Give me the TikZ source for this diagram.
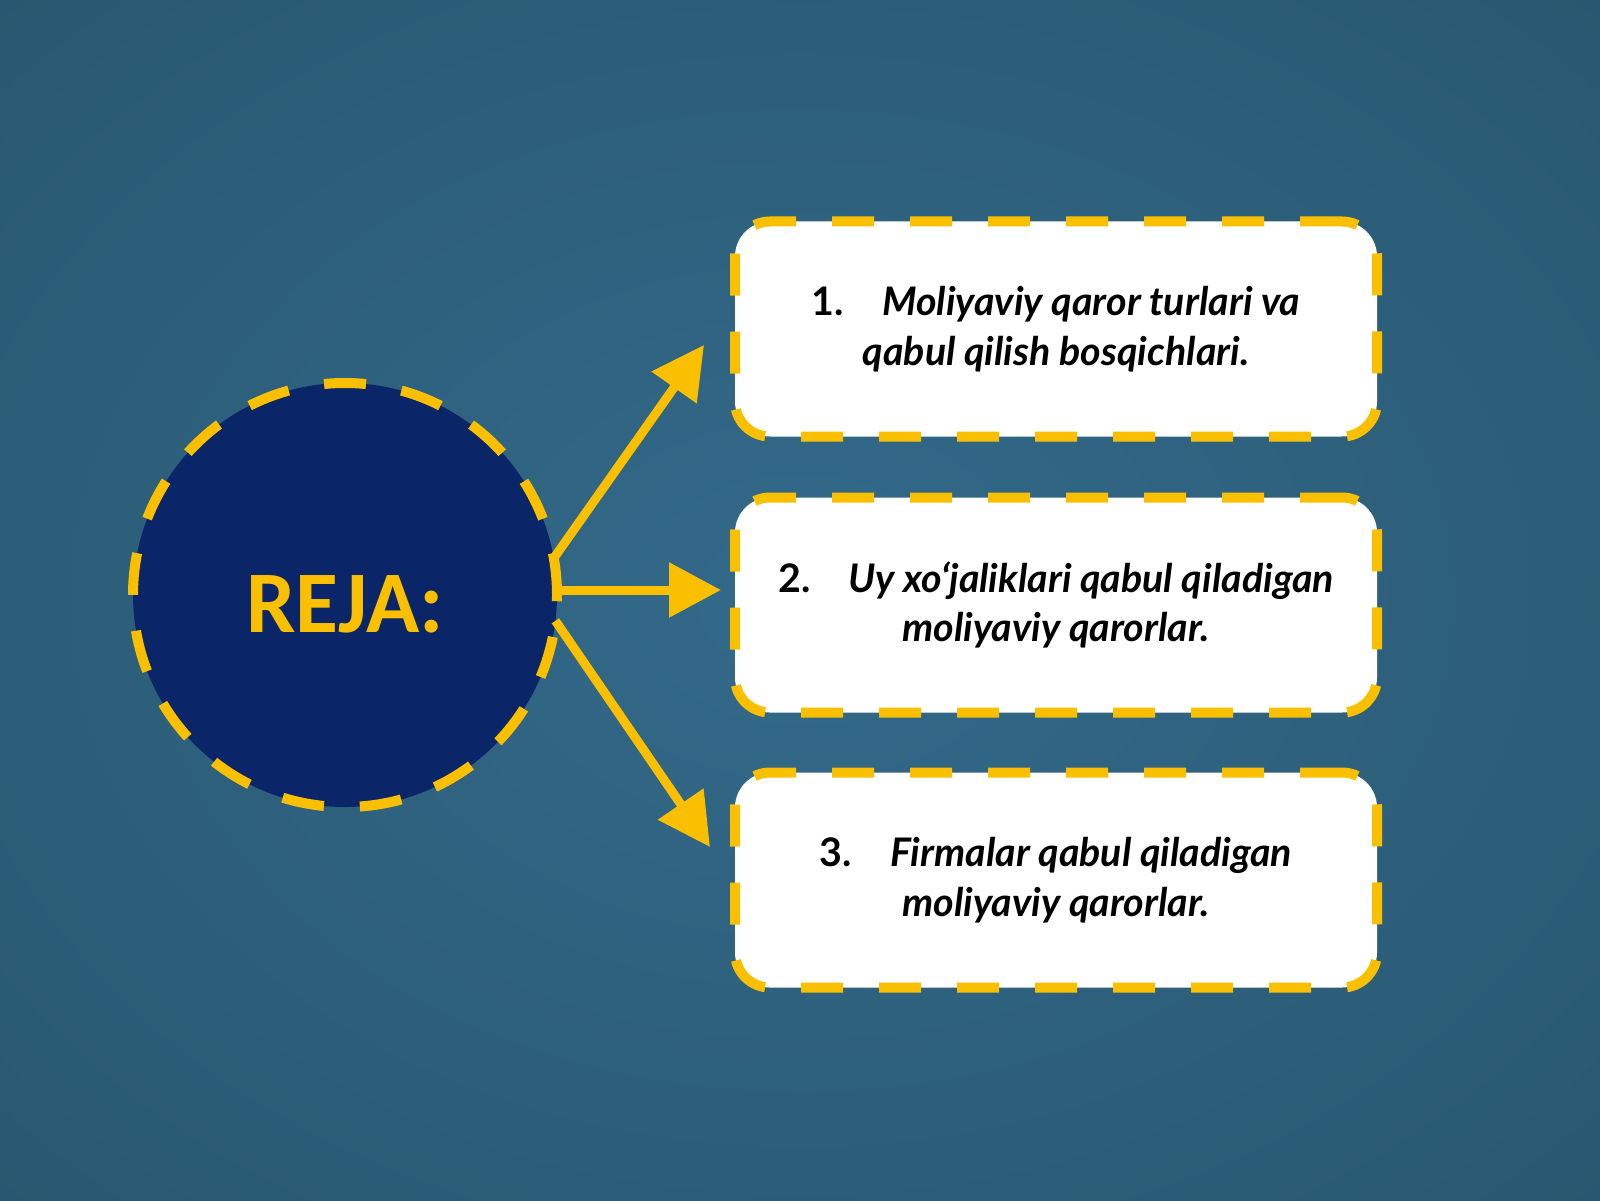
\documentclass[tikz,border=0pt]{standalone}
\usepackage{fontspec}
\newfontfamily\latof{Lato}
\newfontfamily\calib{Carlito}
\usetikzlibrary{arrows.meta}
\definecolor{gold}{RGB}{250,192,0}
\definecolor{navy}{RGB}{10,38,104}
\definecolor{bgA}{HTML}{33698A}
\definecolor{bgB}{HTML}{2B5C76}
\definecolor{bgC}{HTML}{214A62}
\pgfdeclareradialshading{bgshade}{\pgfpoint{0bp}{0bp}}{color(0bp)=(bgA); color(28bp)=(bgB); color(55bp)=(bgC); color(71bp)=(bgC)}
\tikzset{
  itembox/.style={draw=gold, fill=white, line width=0.1cm, rounded corners=0.35cm,
    dash pattern=on 0.42cm off 0.36cm, minimum width=6.42cm, minimum height=2.15cm,
    inner sep=0, outer sep=0, align=center,
    font=\latof\bfseries\itshape\fontsize{11.2}{14.2}\selectfont},
  hub/.style={circle, draw=gold, fill=navy, line width=0.1cm, dash pattern=on 0.42cm off 0.36cm,
    minimum size=4.24cm, inner sep=0, outer sep=0, text=gold,
    text height=0.74cm, text depth=0cm,
    font=\calib\bfseries\fontsize{25}{30}\selectfont},
  pointer/.style={draw=gold, line width=0.09cm, -{Triangle[length=0.52cm,width=0.53cm]}}
}
\newcommand{\num}[1]{{\upshape #1}\hspace{0.38cm}}
\begin{document}
\begin{tikzpicture}
\useasboundingbox (0,0) rectangle (16,12);
\shade[shading=bgshade] (0,0) rectangle (16,12);
\node[hub] (reja) at (3.45,6.05) {REJA:};
\node[itembox] (b1) at (10.56,8.71) {\num{1.}Moliyaviy qaror turlari va\\ qabul qilish bosqichlari.};
\node[itembox] (b2) at (10.56,5.95) {\num{2.}Uy xo‘jaliklari qabul qiladigan\\ moliyaviy qarorlar.};
\node[itembox] (b3) at (10.56,3.20) {\num{3.}Firmalar qabul qiladigan\\ moliyaviy qarorlar.};
\coordinate (t1) at (7.04,8.55);
\coordinate (t2) at (7.21,6.10);
\coordinate (t3) at (7.10,3.53);
\draw[pointer] (reja.10) -- (t1);
\draw[pointer] (reja.east |- t2) -- (t2);
\draw[pointer] (reja.-7) -- (t3);
\end{tikzpicture}
\end{document}
